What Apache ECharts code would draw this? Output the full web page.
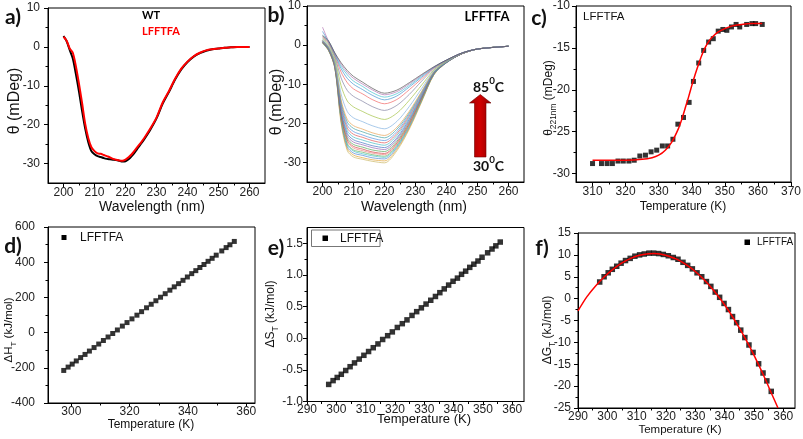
<!DOCTYPE html>
<html>
<head>
<meta charset="utf-8">
<script src="https://cdn.jsdelivr.net/npm/echarts@6/dist/echarts.min.js"></script>
<style>html,body{margin:0;padding:0;background:#fff}#c{width:803px;height:439px}</style>
</head>
<body>
<div id="c"></div>
<script>
// ---------- Panel a: far-UV CD spectra ----------
const aWave = [200,201,202,203,204,205,206,207,208,209,210,211,212,213,214,215,216,217,218,219,220,221,222,223,224,225,226,228,230,232,234,236,238,240,242,244,246,248,250,252,254,256,258,260];
const aWT = [2.8,1.5,-0.8,-3.0,-7.0,-11.5,-16.5,-21.0,-24.5,-26.8,-27.6,-28.1,-28.3,-28.6,-28.8,-28.9,-29.0,-29.1,-29.3,-29.5,-29.4,-28.9,-28.1,-27.1,-26.0,-24.9,-23.8,-21.3,-18.4,-14.6,-11.6,-8.4,-5.8,-3.9,-2.5,-1.6,-1.0,-0.6,-0.4,-0.2,-0.1,0,0,0];
const aLFFTFA = [2.6,1.6,-0.4,-1.5,-5.0,-9.5,-14.5,-19.8,-23.5,-25.8,-26.8,-27.4,-27.5,-27.8,-28.1,-28.4,-28.8,-29.0,-29.2,-29.3,-29.0,-28.4,-27.6,-26.6,-25.6,-24.6,-23.5,-21.0,-18.2,-14.3,-11.4,-8.2,-5.6,-3.8,-2.4,-1.5,-0.9,-0.6,-0.4,-0.2,-0.1,0,0,0];

// ---------- Panel b: thermal series 30..85 C ----------
const bWave = [200,202,204,206,208,210,213,216,220,224,228,232,236,240,245,250,260];
const bCurves = [
 [0.5,-1.5,-6.0,-20.0,-27.0,-28.6,-29.2,-29.7,-30.1,-27.0,-21.5,-14.5,-7.5,-4.5,-2.2,-1.0,-0.3],
 [0.5,-1.4,-5.9,-19.6,-26.5,-28.1,-28.8,-29.3,-29.6,-26.6,-21.2,-14.3,-7.5,-4.5,-2.2,-1.0,-0.3],
 [0.6,-1.4,-5.8,-19.2,-26.0,-27.6,-28.2,-28.8,-29.1,-26.2,-20.9,-14.1,-7.4,-4.5,-2.2,-1.0,-0.3],
 [0.6,-1.3,-5.7,-18.9,-25.5,-27.1,-27.8,-28.3,-28.7,-25.9,-20.6,-14.0,-7.4,-4.4,-2.2,-1.0,-0.3],
 [0.7,-1.3,-5.6,-18.6,-25.2,-26.8,-27.4,-28.0,-28.4,-25.6,-20.4,-13.9,-7.3,-4.4,-2.2,-1.0,-0.3],
 [0.7,-1.2,-5.6,-18.3,-24.7,-26.3,-27.0,-27.6,-28.0,-25.3,-20.2,-13.7,-7.3,-4.4,-2.2,-1.0,-0.3],
 [0.8,-1.2,-5.5,-18.0,-24.3,-25.9,-26.6,-27.3,-27.7,-25.0,-20.0,-13.6,-7.2,-4.4,-2.2,-1.0,-0.3],
 [0.8,-1.1,-5.4,-17.6,-23.8,-25.4,-26.1,-26.8,-27.2,-24.6,-19.6,-13.4,-7.2,-4.4,-2.2,-1.0,-0.3],
 [0.9,-1.0,-5.3,-17.1,-23.2,-24.8,-25.5,-26.2,-26.7,-24.1,-19.3,-13.2,-7.1,-4.4,-2.2,-1.0,-0.3],
 [0.9,-1.0,-5.1,-16.7,-22.6,-24.2,-25.0,-25.7,-26.2,-23.7,-18.9,-13.0,-7.1,-4.4,-2.2,-1.0,-0.3],
 [1.0,-0.9,-5.0,-16.1,-21.9,-23.5,-24.3,-25.0,-25.6,-23.1,-18.5,-12.8,-7.0,-4.3,-2.2,-1.0,-0.3],
 [1.1,-0.8,-4.9,-15.6,-21.2,-22.8,-23.6,-24.4,-25.0,-22.6,-18.1,-12.5,-6.9,-4.3,-2.2,-1.0,-0.3],
 [1.1,-0.7,-4.7,-15.1,-20.5,-22.1,-23.0,-23.8,-24.4,-22.1,-17.7,-12.3,-6.9,-4.3,-2.1,-1.0,-0.3],
 [1.2,-0.6,-4.6,-14.5,-19.7,-21.3,-22.2,-23.0,-23.7,-21.5,-17.3,-12.0,-6.8,-4.3,-2.1,-1.0,-0.3],
 [1.3,-0.5,-4.4,-14.0,-19.0,-20.6,-21.5,-22.4,-23.1,-21.0,-16.9,-11.8,-6.7,-4.2,-2.1,-1.0,-0.3],
 [1.5,-0.3,-4.1,-12.5,-17.0,-18.6,-19.6,-20.6,-21.4,-19.5,-15.7,-11.1,-6.5,-4.2,-2.1,-1.0,-0.3],
 [1.7,0.1,-3.5,-10.4,-14.3,-15.8,-17.0,-18.1,-19.0,-17.4,-14.1,-10.2,-6.3,-4.1,-2.1,-1.0,-0.3],
 [2.0,0.4,-3.0,-8.4,-11.6,-13.1,-14.4,-15.7,-16.7,-15.4,-12.6,-9.2,-6.0,-4.0,-2.1,-1.0,-0.3],
 [2.2,0.6,-2.6,-6.9,-9.6,-11.2,-12.5,-13.9,-15.0,-13.9,-11.4,-8.6,-5.8,-3.9,-2.0,-1.0,-0.3],
 [3.5,0.8,-2.4,-6.0,-8.5,-10.0,-11.4,-12.8,-14.0,-13.0,-10.7,-8.2,-5.7,-3.9,-2.0,-1.0,-0.3],
 [2.4,0.9,-2.2,-5.4,-7.6,-9.2,-10.6,-12.1,-13.3,-12.4,-10.3,-7.9,-5.6,-3.8,-2.0,-1.0,-0.3],
 [4.6,0.9,-2.1,-4.9,-7.0,-8.5,-10.0,-11.4,-12.7,-11.9,-9.9,-7.7,-5.6,-3.8,-2.0,-1.0,-0.3],
 [2.5,1.0,-2.0,-4.5,-6.5,-8.0,-9.5,-11.0,-12.3,-11.5,-9.6,-7.5,-5.5,-3.8,-2.0,-1.0,-0.3]
];
const bColors = ['#c8b560','#e0a030','#4a7fd0','#40c0c8','#60b060','#f08080','#d04040','#50a050','#9060b0','#4070c0','#40b8c0','#e05050','#5090e0','#40a0a0','#e8a050','#80b0e0','#a0c040','#8080a0','#f06060','#4090d0','#40c0d0','#b070b0','#505050'];

// ---------- Panel c: melting curve at 221 nm ----------
const cTemp = [310.0,312.7,314.4,316.0,317.7,319.3,321.0,322.6,324.3,326.0,327.7,329.4,331.1,332.7,334.3,335.8,337.5,339.2,340.5,342.1,343.6,345.1,346.5,348.0,349.4,350.6,352.0,353.4,354.5,356.6,358.2,359.3,361.3];
const cTheta = [-28.8,-28.8,-28.8,-28.8,-28.5,-28.5,-28.5,-28.4,-27.9,-27.8,-27.4,-27.2,-26.7,-26.7,-25.9,-24.1,-23.3,-21.5,-19.0,-16.8,-15.3,-14.3,-13.9,-13.0,-12.8,-12.9,-12.5,-12.2,-12.5,-12.2,-12.1,-12.1,-12.2];
const cFitT = [310,315,320,325,328,330,332,334,336,337,338,339,340,341,342,343,344,345,346,348,350,352,355,358,361.3];
const cFitTheta = [-28.4,-28.4,-28.4,-28.3,-28.1,-27.8,-27.2,-26.2,-24.6,-23.5,-22.2,-20.9,-19.5,-18.2,-17.0,-15.9,-15.0,-14.3,-13.8,-13.1,-12.7,-12.4,-12.2,-12.1,-12.1];

// ---------- Panels d, e, f: thermodynamics ----------
const thermoT = [297.4,298.9,300.3,301.7,303.2,304.7,306.2,307.8,309.4,311.0,312.6,314.2,315.8,317.5,319.1,320.8,322.5,324.1,325.8,327.4,329.0,330.6,332.2,333.8,335.3,336.8,338.3,339.8,341.3,342.7,344.1,345.5,346.9,348.3,349.7,351.6,353.1,354.4,355.9];
const dH = [-215,-196,-179,-161,-142,-124,-105,-85,-65,-45,-25,-5,15,37,57,78,99,119,141,161,181,201,221,241,260,278,297,316,335,352,370,387,405,422,440,464,483,499,518];
const dS = [-0.73,-0.67,-0.62,-0.57,-0.51,-0.45,-0.39,-0.33,-0.27,-0.21,-0.15,-0.09,-0.02,0.04,0.10,0.17,0.23,0.29,0.36,0.42,0.48,0.54,0.60,0.66,0.72,0.78,0.84,0.90,0.95,1.01,1.06,1.12,1.17,1.22,1.28,1.35,1.41,1.46,1.52];
const dG = [3.8,5.0,5.9,6.7,7.4,8.1,8.7,9.2,9.7,10.0,10.2,10.4,10.4,10.3,10.1,9.8,9.4,9.0,8.3,7.6,6.8,5.9,5.0,3.9,2.8,1.5,0.3,-1.1,-2.5,-4.1,-5.5,-7.2,-8.9,-10.6,-12.3,-14.9,-17.0,-18.8,-21.2];
const fFitT = [290,293,296,299,302,305,308,311,314,316,318,321,324,327,330,333,336,339,342,345,348,351,354,356,358.2];
const fFitG = [-2.8,0.4,2.9,5.0,6.75,8.15,9.2,9.9,10.25,10.3,10.2,9.7,8.9,7.7,6.2,4.3,2.1,-0.5,-3.4,-6.7,-10.3,-14.3,-18.6,-21.7,-25.0];

// ---------- tick values ----------
const abXTicks = [200,210,220,230,240,250,260], abXMinor = [205,215,225,235,245,255];
const abYTicks = [-30,-20,-10,0,10], abYMinor = [-25,-15,-5,5];
const cXTicks = [310,320,330,340,350,360,370], cXMinor = [315,325,335,345,355,365];
const cYTicks = [-30,-25,-20,-15,-10], cYMinor = [-27.5,-22.5,-17.5,-12.5];
const dXTicks = [300,320,340,360], dXMinor = [310,330,350];
const dYTicks = [-400,-200,0,200,400,600], dYMinor = [-300,-100,100,300,500];
const efXTicks = [290,300,310,320,330,340,350,360], efXMinor = [295,305,315,325,335,345,355];
const eYTicks = [-1.0,-0.5,0.0,0.5,1.0,1.5], eYMinor = [-0.75,-0.25,0.25,0.75,1.25];
const fYTicks = [-25,-20,-15,-10,-5,0,5,10,15], fYMinor = [-22.5,-17.5,-12.5,-7.5,-2.5,2.5,7.5,12.5];

const NARROW = "'Liberation Sans Narrow', 'Liberation Sans', Arial, sans-serif";
const SANS = "'Liberation Sans', Arial, sans-serif";
const BOLD = "Lato, 'Open Sans', sans-serif";

const grids = [
  {left:48, top:8, width:217, height:175},
  {left:307, top:6, width:217, height:176},
  {left:576, top:6, width:215, height:176},
  {left:48, top:227, width:207, height:176},
  {left:307, top:227.5, width:217, height:174},
  {left:578, top:233, width:217, height:175}
].map(g => Object.assign(g, {show:true, borderColor:'#000', borderWidth:1, backgroundColor:'transparent', containLabel:false, outerBoundsMode:'none'}));

const xAxes = [], yAxes = [];
function addAxes(gi, xr, yr, xMaj, xMin, yMaj, yMin, xm, ym, yFmt) {
  const lbl = {fontSize:12, fontFamily:NARROW, color:'#222'};
  xAxes.push({type:'value', gridIndex:gi, min:xr[0], max:xr[1], position:'bottom',
    axisLine:{show:true, onZero:false, lineStyle:{color:'#000', width:1}},
    axisTick:{show:true, inside:false, length:4, customValues:xMaj, lineStyle:{color:'#000'}},
    axisLabel:Object.assign({show:true, margin:xm, customValues:xMaj}, lbl),
    splitLine:{show:false}});
  xAxes.push({type:'value', gridIndex:gi, min:xr[0], max:xr[1], position:'bottom',
    axisLine:{show:false, onZero:false}, axisLabel:{show:false},
    axisTick:{show:true, inside:false, length:2.5, customValues:xMin, lineStyle:{color:'#000'}},
    splitLine:{show:false}});
  yAxes.push({type:'value', gridIndex:gi, min:yr[0], max:yr[1], position:'left',
    axisLine:{show:true, onZero:false, lineStyle:{color:'#000', width:1}},
    axisTick:{show:true, inside:false, length:4, customValues:yMaj, lineStyle:{color:'#000'}},
    axisLabel:Object.assign({show:true, margin:ym, customValues:yMaj, formatter:yFmt}, lbl),
    splitLine:{show:false}});
  yAxes.push({type:'value', gridIndex:gi, min:yr[0], max:yr[1], position:'left', offset:0,
    axisLine:{show:false, onZero:false}, axisLabel:{show:false},
    axisTick:{show:true, inside:false, length:2.5, customValues:yMin, lineStyle:{color:'#000'}},
    splitLine:{show:false}});
}
const intFmt = v => String(Math.round(v));
addAxes(0, [195,265], [-35,10], abXTicks, abXMinor, abYTicks, abYMinor, 4, 8, intFmt);
addAxes(1, [195,265], [-35,10], abXTicks, abXMinor, abYTicks, abYMinor, 4, 6, intFmt);
addAxes(2, [305,370], [-31,-10], cXTicks, cXMinor, cYTicks, cYMinor, 4, 6, intFmt);
addAxes(3, [292,363], [-400,600], dXTicks, dXMinor, dYTicks, dYMinor, 3, 13, intFmt);
addAxes(4, [290,364], [-1,1.75], efXTicks, efXMinor, eYTicks, eYMinor, 2, 4, v => v.toFixed(1));
addAxes(5, [290,364], [-25,15], efXTicks, efXMinor, fYTicks, fYMinor, 3, 7, intFmt);

const pairs = (xs, ys) => xs.map((x, i) => [x, ys[i]]);
const series = [];
function line(gi, xs, ys, color, width, extra) {
  series.push(Object.assign({type:'line', xAxisIndex:2*gi, yAxisIndex:2*gi, data:pairs(xs, ys),
    showSymbol:false, symbol:'none', smooth:0.3, silent:true, animation:false,
    lineStyle:{color:color, width:width}}, extra || {}));
}
function squares(gi, xs, ys, size) {
  series.push({type:'scatter', xAxisIndex:2*gi, yAxisIndex:2*gi, data:pairs(xs, ys),
    symbol:'rect', symbolSize:size, itemStyle:{color:'#000'}, silent:true, animation:false});
}
// a
line(0, aWave, aWT, '#000', 2);
line(0, aWave, aLFFTFA, '#ff0000', 2);
// b
bCurves.forEach((c, i) => line(1, bWave, c, bColors[i], 0.8, {lineStyle:{color:bColors[i], width:0.8, opacity:0.85}}));
// c
squares(2, cTemp, cTheta, 5);
line(2, cFitT, cFitTheta, '#ff0000', 1.5);
// d, e
squares(3, thermoT, dH, 5);
squares(4, thermoT, dS, 5.5);
// f
squares(5, thermoT, dG, 5.5);
line(5, fFitT, fFitG, '#ff0000', 1.5);

// ---------- texts ----------
function txt(x, y, text, o) {
  o = o || {};
  return {type:'text', x:x, y:y, rotation:o.rot || 0, silent:true, z:100,
    style:{text:text, fill:o.fill || '#111', fontSize:o.size || 12, fontFamily:o.family || SANS,
      fontWeight:o.weight || 'normal', align:o.align || 'center', verticalAlign:'middle', rich:o.rich}};
}
const R = Math.PI / 2;
function subTitle(x, y, main, sub, rest, size, rot) {
  return {type:'text', x:x, y:y, rotation:rot || 0, silent:true, z:100,
    style:{text:'{m|' + main + '}{s|' + sub + '}{m|' + rest + '}', align:'center', verticalAlign:'middle',
      rich:{m:{fontSize:size, fontFamily:SANS, fill:'#111', lineHeight:size + 6},
            s:{fontSize:size * 0.7, fontFamily:SANS, fill:'#111', lineHeight:(size + 6) / 2, verticalAlign:'bottom'}}}};
}
function supText(x, y, a, sup, b, size) {
  return {type:'text', x:x, y:y, silent:true, z:100,
    style:{text:'{m|' + a + '}{s|' + sup + '}{m|' + b + '}', align:'center', verticalAlign:'middle',
      rich:{m:{fontSize:size, fontFamily:BOLD, fontWeight:'bold', fill:'#111', lineHeight:size + 8},
            s:{fontSize:size * 0.7, fontFamily:BOLD, fontWeight:'bold', fill:'#111', lineHeight:(size + 8) / 2, verticalAlign:'top'}}}};
}
const graphic = [
  // panel letters
  txt(13, 17, 'a)', {size:21, weight:'bold', family:BOLD}),
  txt(276, 15, 'b)', {size:21, weight:'bold', family:BOLD}),
  txt(539, 18, 'c)', {size:21, weight:'bold', family:BOLD}),
  txt(13, 246, 'd)', {size:21, weight:'bold', family:BOLD}),
  txt(276, 248, 'e)', {size:21, weight:'bold', family:BOLD}),
  txt(542, 248, 'f)', {size:21, weight:'bold', family:BOLD}),
  // axis titles
  txt(15, 101, 'θ (mDeg)', {size:16, rot:R}),
  txt(152, 207, 'Wavelength (nm)', {size:14}),
  txt(277, 102, 'θ (mDeg)', {size:16, rot:R}),
  txt(414, 207, 'Wavelength (nm)', {size:14}),
  subTitle(549, 98, 'θ', '221nm', ' (mDeg)', 12, R),
  txt(683, 207, 'Temperature (K)', {size:12}),
  subTitle(9, 330, 'ΔH', 'T', ' (kJ/mol)', 11.5, R),
  txt(151, 425, 'Temperature (K)', {size:12, family:NARROW}),
  subTitle(271, 314, 'ΔS', 'T', ' (kJ/mol)', 12, R),
  txt(424, 419, 'Temperature (K)', {size:13}),
  subTitle(548, 330, 'ΔG', 'T', ' (kJ/mol)', 12, R),
  txt(680, 430, 'Temperature (K)', {size:11.5}),
  // legends / labels
  txt(142, 15, 'WT', {size:11, weight:'bold', family:BOLD, align:'left', fill:'#000'}),
  txt(142, 31, 'LFFTFA', {size:11, weight:'bold', family:BOLD, align:'left', fill:'#ff0000'}),
  txt(487, 17, 'LFFTFA', {size:13, weight:'bold', family:BOLD, fill:'#000'}),
  txt(583, 17, 'LFFTFA', {size:11.5, family:NARROW, align:'left'}),
  {type:'rect', shape:{x:61.5, y:235, width:5, height:5}, style:{fill:'#000'}, silent:true, z:100},
  txt(80, 238, 'LFFTFA', {size:12, family:NARROW, align:'left'}),
  {type:'rect', shape:{x:311.5, y:230, width:68.5, height:16.5}, style:{fill:'#fff', stroke:'#777', lineWidth:1}, silent:true, z:99},
  {type:'rect', shape:{x:322.5, y:235.5, width:5.5, height:5.5}, style:{fill:'#000'}, silent:true, z:100},
  txt(340, 238.5, 'LFFTFA', {size:12, family:NARROW, align:'left'}),
  {type:'rect', shape:{x:744.5, y:239.5, width:5.5, height:5.5}, style:{fill:'#000'}, silent:true, z:100},
  txt(757, 242.5, 'LFFTFA', {size:10, family:NARROW, align:'left'}),
  // temperature arrow in b
  {type:'polygon', silent:true, z:100,
    shape:{points:[[474.5,157],[486,157],[486,103],[491,103],[480.3,94.5],[469.5,103],[474.5,103]]},
    style:{fill:new echarts.graphic.LinearGradient(0,0,1,0,[{offset:0,color:'#a00000'},{offset:0.5,color:'#d00000'},{offset:1,color:'#900000'}]), stroke:'#700000', lineWidth:0.6}},
  supText(488.5, 87, '85', '0', 'C', 14),
  supText(488.5, 166, '30', '0', 'C', 14)
];

const chart = echarts.init(document.getElementById('c'), null, {renderer:'canvas', width:803, height:439});
chart.setOption({animation:false, backgroundColor:'#fff', grid:grids, xAxis:xAxes, yAxis:yAxes, series:series, graphic:graphic});
</script>
</body>
</html>
